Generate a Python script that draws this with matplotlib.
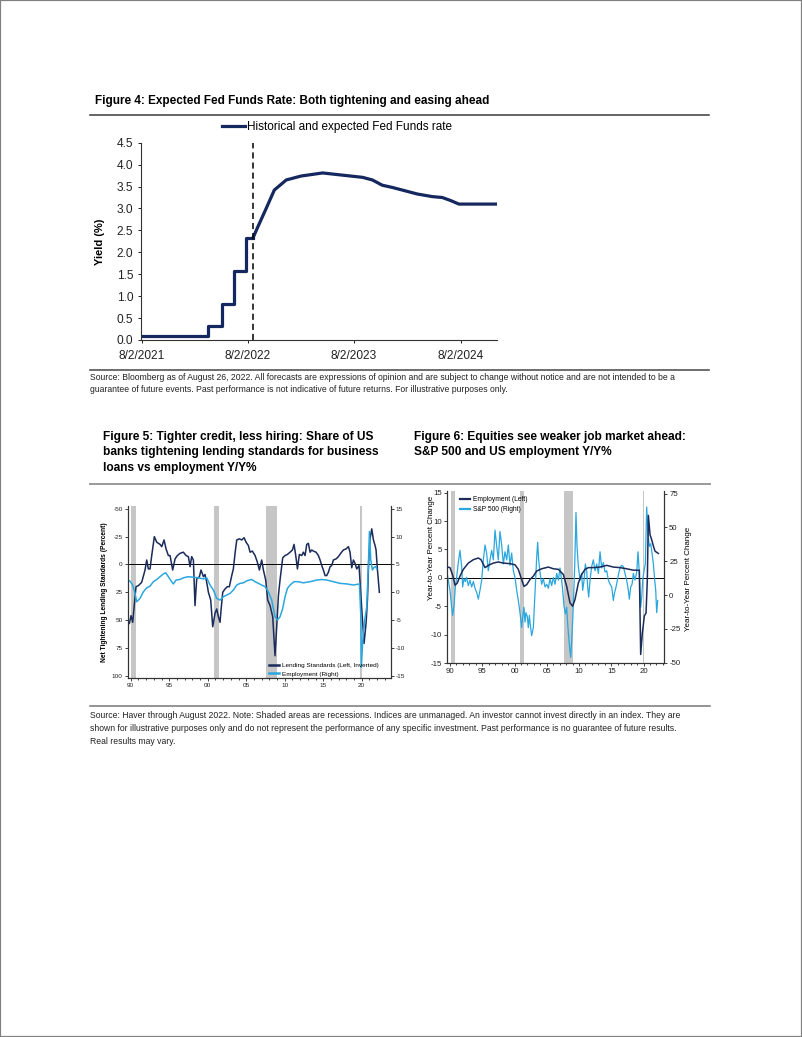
import matplotlib
matplotlib.use('Agg')
import matplotlib.pyplot as plt
from matplotlib.lines import Line2D
from matplotlib.patches import Rectangle
from matplotlib import font_manager
import numpy as np
import pandas as pd

# ---- Figure 4: fed funds rate (history as steps, then market-implied path)
hist_dates = ['2021-08-02', '2021-09-01', '2022-03-17', '2022-05-05', '2022-06-16', '2022-07-28', '2022-08-20']
hist_rate = [0.10, 0.08, 0.33, 0.83, 1.58, 2.33, 2.33]
fcst_dates = ['2022-08-20', '2022-08-31', '2022-10-04', '2022-11-01', '2022-12-12', '2023-02-01',
              '2023-04-16', '2023-06-23', '2023-08-31', '2023-10-04', '2023-11-07', '2023-12-11',
              '2024-01-26', '2024-03-06', '2024-04-27', '2024-05-31', '2024-06-29', '2024-07-27',
              '2024-11-30']
fcst_rate = [2.33, 2.50, 3.00, 3.42, 3.65, 3.74, 3.81, 3.76, 3.71, 3.65, 3.53, 3.48,
             3.40, 3.33, 3.27, 3.25, 3.18, 3.10, 3.10]
today_date = '2022-08-20'
fed_tick_dates = ['2021-08-02', '2022-08-02', '2023-08-02', '2024-08-02']
fed_tick_labels = ['8/2/2021', '8/2/2022', '8/2/2023', '8/2/2024']

# ---- Figure 5: lending standards (inverted, left) vs employment y/y (right)
lend_years = [1989.83, 1990.04, 1990.26, 1990.48, 1990.69, 1991.00, 1991.43, 1991.86, 1992.08, 1992.29,
              1992.51, 1992.73, 1993.07, 1993.38, 1993.81, 1994.03, 1994.33, 1994.59, 1994.89, 1995.11,
              1995.45, 1995.76, 1996.06, 1996.41, 1996.84, 1997.19, 1997.49, 1997.71, 1997.92, 1998.14,
              1998.35, 1998.57, 1998.92, 1999.13, 1999.44, 1999.65, 1999.87, 2000.09, 2000.39, 2000.65,
              2000.95, 2001.17, 2001.39, 2001.60, 2001.73, 2001.95, 2002.25, 2002.55, 2002.81, 2003.12,
              2003.33, 2003.55, 2003.77, 2004.11, 2004.42, 2004.72, 2004.98, 2005.28, 2005.50, 2005.80,
              2006.15, 2006.45, 2006.71, 2007.01, 2007.23, 2007.53, 2007.79, 2008.10, 2008.44, 2008.74,
              2008.96, 2009.18, 2009.39, 2009.74, 2010.04, 2010.35, 2010.69, 2011.00, 2011.21, 2011.43,
              2011.65, 2011.90, 2012.21, 2012.42, 2012.64, 2012.86, 2013.07, 2013.29, 2013.51, 2013.72,
              2014.07, 2014.37, 2014.59, 2014.81, 2015.02, 2015.24, 2015.45, 2015.67, 2015.89, 2016.10,
              2016.32, 2016.67, 2016.97, 2017.27, 2017.62, 2017.97, 2018.27, 2018.48, 2018.70, 2018.92,
              2019.13, 2019.35, 2019.65, 2019.87, 2020.13, 2020.30, 2020.56, 2020.74, 2020.91, 2021.08,
              2021.30, 2021.52, 2021.73, 2021.86, 2022.03, 2022.29]
lend_vals = [53, 46, 52, 35, 20, 19, 16, 5, -4, 4,
             4, -8, -25, -20, -18, -16, -22, -14, -8, -8,
             5, -5, -8, -10, -11, -8, -7, 2, -7, -4,
             37, 13, 11, 5, 11, 9, 16, 25, 32, 56,
             44, 40, 47, 52, 41, 25, 22, 20, 20, 10,
             4, -10, -22, -23, -22, -24, -20, -17, -11, -12,
             -8, -2, 5, -4, 5, 14, 32, 37, 47, 82,
             56, 28, 14, -6, -8, -9, -11, -13, -18, -8,
             4, -9, -8, -11, -8, -18, -19, -11, -13, -12,
             -11, -8, -4, 1, 5, 10, 10, 7, 2, 1,
             -4, -5, -7, -10, -13, -14, -16, -11, 3, -4,
             -1, 4, 1, 26, 53, 71, 53, 32, -4, -23,
             -32, -22, -17, -13, 4, 25]
emp5_years = [1989.61, 1989.91, 1990.26, 1990.56, 1990.78, 1991.21, 1991.65, 1992.08, 1992.51, 1992.94,
              1993.38, 1993.81, 1994.24, 1994.55, 1994.89, 1995.32, 1995.54, 1995.89, 1996.41, 1996.84,
              1997.49, 1998.14, 1998.79, 1999.44, 1999.87, 2000.30, 2000.74, 2001.17, 2001.60, 2002.03,
              2002.47, 2002.90, 2003.33, 2003.77, 2004.20, 2004.63, 2005.15, 2005.71, 2006.15, 2006.58,
              2007.01, 2007.45, 2007.88, 2008.31, 2008.74, 2009.05, 2009.39, 2009.74, 2010.04, 2010.35,
              2010.69, 2011.21, 2011.77, 2012.42, 2013.29, 2014.16, 2014.81, 2015.45, 2016.32, 2017.19,
              2018.05, 2018.92, 2019.70, 2019.87, 2019.95, 2020.13, 2020.39, 2020.65, 2020.87, 2021.00,
              2021.17, 2021.39, 2021.60, 2021.82, 2021.95]
emp5_vals = [2.2, 2.0, 1.3, -0.2, -1.7, -1.1, 0.1, 0.8, 1.1, 1.9,
             2.3, 2.8, 3.3, 3.5, 2.8, 1.9, 1.5, 2.2, 2.3, 2.6,
             2.8, 2.7, 2.6, 2.4, 2.6, 1.3, 0.4, -1.1, -1.4, -0.8,
             -0.5, -0.2, 0.4, 1.3, 1.6, 1.7, 2.1, 2.3, 1.9, 1.6,
             1.3, 1.0, 0.1, -1.4, -4.4, -5.0, -4.4, -2.9, -0.8, 0.7,
             1.3, 1.9, 1.9, 1.7, 1.9, 2.2, 2.3, 2.2, 1.9, 1.6,
             1.5, 1.3, 1.5, -3.8, -13.5, -8.7, -5.0, -2.6, 5.2, 10.9,
             5.8, 4.0, 4.5, 4.6, 4.2]
recess5 = [(1990.1, 1990.7), (2000.8, 2001.5), (2007.6, 2009.0), (2019.8, 2020.0)]
years5_ticks = [1990, 1995, 2000, 2005, 2010, 2015, 2020]
year_labels = ['90', '95', '00', '05', '10', '15', '20']

# ---- Figure 6: employment y/y (left) vs S&P 500 y/y (right)
emp6_years = [1989.64, 1990.00, 1990.41, 1990.78, 1991.14, 1991.55, 1992.07, 1992.84, 1993.62, 1994.39,
              1994.81, 1995.43, 1995.94, 1996.72, 1997.49, 1998.27, 1999.30, 2000.08, 2000.59, 2001.11,
              2001.47, 2001.89, 2002.40, 2002.92, 2003.44, 2004.21, 2005.25, 2006.02, 2006.80, 2007.57,
              2008.09, 2008.60, 2009.02, 2009.38, 2009.90, 2010.41, 2010.93, 2011.45, 2012.22, 2013.26,
              2014.29, 2015.32, 2016.36, 2017.39, 2018.42, 2019.35, 2019.56, 2019.82, 2020.13, 2020.39,
              2020.59, 2020.75, 2021.01, 2021.27, 2021.53, 2021.78, 2022.04, 2022.30]
emp6_vals = [1.9, 1.8, 0.5, -1.3, -0.9, 0.3, 1.5, 2.6, 3.2, 3.5,
             3.2, 1.8, 2.2, 2.6, 2.8, 2.6, 2.5, 2.3, 1.5, -0.3,
             -1.5, -1.2, -0.3, 0.3, 1.2, 1.6, 1.9, 1.6, 1.5, 0.6,
             -1.5, -4.4, -5.0, -3.8, -0.9, 0.6, 1.5, 1.8, 1.8, 1.9,
             2.2, 1.9, 1.8, 1.6, 1.35, 1.35, -13.5, -9.7, -6.7, -6.2,
             -0.3, 11.0, 7.6, 6.7, 5.6, 4.7, 4.5, 4.3]
spx_years = [1989.48, 1989.74, 1990.00, 1990.26, 1990.41, 1990.62, 1990.83, 1991.03, 1991.29, 1991.55,
             1991.81, 1991.96, 1992.17, 1992.38, 1992.58, 1992.84, 1993.10, 1993.36, 1993.62, 1993.88,
             1994.13, 1994.39, 1994.65, 1994.91, 1995.17, 1995.43, 1995.68, 1995.94, 1996.20, 1996.46,
             1996.72, 1996.98, 1997.24, 1997.49, 1997.75, 1998.01, 1998.27, 1998.53, 1998.79, 1999.04,
             1999.30, 1999.56, 1999.82, 2000.08, 2000.34, 2000.59, 2000.85, 2001.11, 2001.27, 2001.47,
             2001.63, 2001.78, 2001.99, 2002.14, 2002.30, 2002.45, 2002.66, 2002.92, 2003.07, 2003.28,
             2003.44, 2003.59, 2003.75, 2003.95, 2004.21, 2004.47, 2004.73, 2004.99, 2005.25, 2005.50,
             2005.76, 2006.02, 2006.28, 2006.54, 2006.80, 2007.05, 2007.31, 2007.47, 2007.67, 2007.88,
             2008.09, 2008.24, 2008.40, 2008.55, 2008.71, 2008.86, 2009.02, 2009.17, 2009.33, 2009.53,
             2009.69, 2009.90, 2010.16, 2010.41, 2010.57, 2010.78, 2010.98, 2011.19, 2011.34, 2011.50,
             2011.71, 2011.96, 2012.22, 2012.48, 2012.74, 2013.00, 2013.26, 2013.51, 2013.77, 2014.03,
             2014.29, 2014.55, 2014.81, 2015.07, 2015.32, 2015.48, 2015.74, 2015.94, 2016.15, 2016.36,
             2016.61, 2016.87, 2017.13, 2017.39, 2017.65, 2017.80, 2018.01, 2018.22, 2018.42, 2018.68,
             2018.94, 2019.15, 2019.35, 2019.46, 2019.56, 2019.72, 2019.87, 2020.08, 2020.28, 2020.49,
             2020.70, 2020.90, 2021.11, 2021.32, 2021.53, 2021.73, 2021.89, 2022.04, 2022.20]
spx_vals = [18, 11, 3.5, -9, -15, -8, 6, 13, 24, 33,
            21, 6, 12, 10, 13, 7, 11, 6, 10, 5,
            2, -3, 3.5, 11, 26, 37, 31, 18, 26, 33,
            26, 48, 36, 26, 47, 37, 23, 32, 26, 37,
            22, 31, 18, 13, 3.5, -4, -13, -24, -16, -9,
            -20, -13, -16, -24, -15, -22, -30, -24, -9, 11,
            28, 39, 26, 17, 8, 12, 6, 8, 5, 12,
            7, 13, 8, 16, 11, 20, 11, 3.5, -8, -14,
            -9, -21, -31, -39, -46, -34, -19, 1, 21, 61,
            36, 21, 11, 16, 3.5, 11, 23, 18, 6, -1.5,
            11, 21, 26, 18, 23, 16, 32, 20, 24, 17,
            18, 11, 8, 6, -4, 1, 6, 11, 16, 20,
            22, 21, 16, 11, 3.5, -3, 6, 8, 16, 11,
            17, 32, 16, 3.5, -9, -1.5, 11, 18, 23, 65,
            45, 36, 38, 31, 23, 11, 3.5, -13, -4]
recess6 = [(1990.1, 1990.7), (2000.8, 2001.4), (2007.6, 2009.1), (2019.9, 2020.1)]

title4 = 'Figure 4: Expected Fed Funds Rate: Both tightening and easing ahead'
source4 = ['Source: Bloomberg as of August 26, 2022. All forecasts are expressions of opinion and are subject to change without notice and are not intended to be a',
           'guarantee of future events. Past performance is not indicative of future returns. For illustrative purposes only.']
title5 = ['Figure 5: Tighter credit, less hiring: Share of US',
          'banks tightening lending standards for business',
          'loans vs employment Y/Y%']
title6 = ['Figure 6: Equities see weaker job market ahead:',
          'S&P 500 and US employment Y/Y%']
source56 = ['Source: Haver through August 2022. Note: Shaded areas are recessions. Indices are unmanaged. An investor cannot invest directly in an index. They are',
            'shown for illustrative purposes only and do not represent the performance of any specific investment. Past performance is no guarantee of future results.',
            'Real results may vary.']

plt.rcParams['font.family'] = ['Liberation Sans', 'DejaVu Sans']
plt.rcParams['axes.unicode_minus'] = False
installed = {f.name for f in font_manager.fontManager.ttflist}
NARROW = 'Liberation Sans Narrow' if 'Liberation Sans Narrow' in installed else 'Liberation Sans'
# source notes are set in a condensed face; without one, shrink to the same line width
note_size = 7.2 if NARROW == 'Liberation Sans Narrow' else 6.25

NAVY = '#14275e'
DARK = '#1b2b5a'
LIGHT = '#2aa7df'
SHADE = '#c6c6c6'

W, H = 802, 1037
fig = plt.figure(figsize=(W / 100, H / 100), dpi=100)


def fx(px):
    return px / W


def fy(py):
    return 1 - py / H


def axes_px(left, top, right, bottom):
    return fig.add_axes([fx(left), fy(bottom), fx(right) - fx(left), fy(top) - fy(bottom)])


def rule(y, color, lw, x0=90, x1=709):
    fig.add_artist(Line2D([fx(x0), fx(x1)], [fy(y), fy(y)], color=color, lw=lw))


def lines_at(x, ys, texts, **kw):
    for y, t in zip(ys, texts):
        fig.text(fx(x), fy(y), t, va='center', ha='left', **kw)


# page frame
fig.add_artist(Rectangle((0, 0), 1, 1, transform=fig.transFigure, fill=False,
                         edgecolor='#808080', lw=1.6))

# ---------------- Figure 4
fig.text(fx(95), fy(101), title4, fontsize=8.45, fontweight='bold', va='center')
rule(115, '#3a3a3a', 1.1)

ax1 = axes_px(140.7, 142.7, 497, 340)
ax1.step(pd.to_datetime(hist_dates), hist_rate, where='post', color=NAVY, lw=2.3,
         label='Historical and expected Fed Funds rate')
ax1.plot(pd.to_datetime(fcst_dates), fcst_rate, color=NAVY, lw=2.3)
ax1.axvline(pd.Timestamp(today_date), color='black', lw=1.1, ls=(0, (4, 2.6)))
ax1.set_xlim(pd.Timestamp('2021-07-30'), pd.Timestamp('2024-12-05'))
ax1.set_ylim(0, 4.5)
ax1.set_yticks(np.arange(0, 4.51, 0.5))
ax1.yaxis.set_major_formatter('{x:.1f}')
ax1.set_xticks(pd.to_datetime(fed_tick_dates))
ax1.set_xticklabels(fed_tick_labels)
for s in ['top', 'right']:
    ax1.spines[s].set_visible(False)
for s in ['left', 'bottom']:
    ax1.spines[s].set_color('#333333')
    ax1.spines[s].set_linewidth(0.8)
ax1.tick_params(labelsize=8.6, length=2.5, width=0.7, pad=3, colors='#222222')
ax1.tick_params(axis='x', pad=5)
ax1.set_ylabel('Yield (%)', fontsize=8, fontweight='bold')
ax1.yaxis.set_label_coords(-0.10, 0.5)
ax1.legend(loc='center left', bbox_to_anchor=(0.227, 1.081), frameon=False, fontsize=8.5,
           handlelength=1.95, handletextpad=0.2, borderpad=0, borderaxespad=0)

rule(370, '#555555', 1.2)
lines_at(90, [377, 390], source4, fontsize=note_size, family=NARROW, color='#222222')

# ---------------- titles for figures 5 and 6
lines_at(103, [437, 452.5, 468], title5, fontsize=8.6, family=NARROW, fontweight='bold')
lines_at(414, [437, 452.5], title6, fontsize=8.6, family=NARROW, fontweight='bold')
rule(484, '#9a9a9a', 1.4, x1=710)

# ---------------- Figure 5
ax5 = axes_px(127.7, 506, 391, 678)
for a, b in recess5:
    ax5.axvspan(a, b, color=SHADE, lw=0)
ax5.axhline(0, color='black', lw=0.7)
l1, = ax5.plot(lend_years, lend_vals, color=DARK, lw=1.1, label='Lending Standards (Left, Inverted)')
ax5.set_ylim(102, -52.5)
ax5.set_xlim(1989.61, 2023.8)
ax5.set_yticks([-50, -25, 0, 25, 50, 75, 100])
ax5.set_xticks(years5_ticks)
ax5.set_xticklabels(year_labels)
ax5.set_xticks(np.arange(1990, 2024), minor=True)
ax5.set_ylabel('Net Tightening Lending Standards (Percent)', fontsize=4.8, fontweight='bold')
ax5.yaxis.set_label_coords(-0.075, 0.5)

ax5b = ax5.twinx()
l2, = ax5b.plot(emp5_years, emp5_vals, color=LIGHT, lw=1.1, label='Employment (Right)')
ax5b.set_ylim(-15.4, 15.5)
ax5b.set_yticks([-15, -10, -5, 0, 5, 10, 15])
for a in [ax5, ax5b]:
    a.spines['top'].set_visible(False)
    for s in ['left', 'right', 'bottom']:
        a.spines[s].set_color('#333333')
        a.spines[s].set_linewidth(0.8)
    a.tick_params(which='both', labelsize=4.6, length=2, width=0.6, pad=1.5,
                  labelfontfamily=NARROW, colors='#222222')
    a.tick_params(which='minor', length=1.3)
ax5b.legend(handles=[l1, l2], loc='lower left', bbox_to_anchor=(0.53, 0.0), frameon=False,
            prop={'family': NARROW, 'size': 4.6}, handlelength=1.6,
            handletextpad=0.5, labelspacing=0.45, borderpad=0, borderaxespad=0.2)
for ln in ax5b.get_legend().get_lines():
    ln.set_linewidth(1.8)

# ---------------- Figure 6
ax6 = axes_px(446.7, 491, 664.3, 663)
for a, b in recess6:
    ax6.axvspan(a, b, color=SHADE, lw=0)
ax6.axhline(0, color='black', lw=0.7)
ax6b = ax6.twinx()
m2, = ax6b.plot(spx_years, spx_vals, color=LIGHT, lw=0.9, label='S&P 500 (Right)')
m1, = ax6b.plot([], [], color=DARK, lw=1.1, label='Employment (Left)')
# employment drawn on top of the S&P line, but scaled to the left axis
ax6c = ax6.twinx()
ax6c.plot(emp6_years, emp6_vals, color=DARK, lw=1.1)
ax6c.axis('off')
for a in [ax6, ax6c]:
    a.set_ylim(-15, 15.3)
ax6.set_xlim(1989.49, 2023.22)
ax6b.set_ylim(-50.2, 76.9)
ax6.set_yticks([-15, -10, -5, 0, 5, 10, 15])
ax6b.set_yticks([-50, -25, 0, 25, 50, 75])
ax6.set_xticks(years5_ticks)
ax6.set_xticklabels(year_labels)
ax6.set_xticks(np.arange(1990, 2024), minor=True)
for a in [ax6, ax6b]:
    a.spines['top'].set_visible(False)
    for s in ['left', 'right', 'bottom']:
        a.spines[s].set_color('#333333')
        a.spines[s].set_linewidth(0.8)
    a.tick_params(which='both', labelsize=5.6, length=2, width=0.6, pad=1.5, colors='#222222')
    a.tick_params(which='minor', length=1.3)
ax6.set_ylabel('Year-to-Year Percent Change', fontsize=5.8)
ax6.yaxis.set_label_coords(-0.055, 0.67)
ax6b.set_ylabel('Year-to-Year Percent Change', fontsize=5.8, rotation=90)
ax6b.yaxis.set_label_coords(1.095, 0.49)
ax6c.legend(handles=[m1, m2], loc='upper left', bbox_to_anchor=(0.06, 0.97), frameon=False,
            fontsize=4.8, handlelength=1.5, handletextpad=0.5, labelspacing=0.5,
            borderpad=0, borderaxespad=0)
for ln in ax6c.get_legend().get_lines():
    ln.set_linewidth(1.6)

# ---------------- bottom source note
rule(706, '#777777', 1.1, x1=710)
lines_at(90, [715, 728.5, 742], source56, fontsize=note_size, family=NARROW, color='#222222')

fig.savefig('out.png', dpi=100)
